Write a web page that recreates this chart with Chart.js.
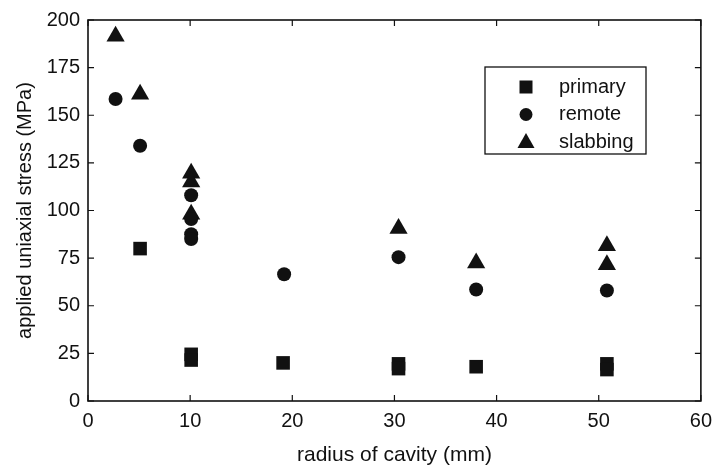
<!DOCTYPE html>
<html>
<head>
<meta charset="utf-8">
<script src="https://cdn.jsdelivr.net/npm/chart.js@4/dist/chart.umd.min.js"></script>
<style>
  html, body { margin: 0; padding: 0; background: #fff; }
  #wrap { width: 720px; height: 470px; }
</style>
</head>
<body>
<div id="wrap"><canvas id="stressChart"></canvas></div>
<script>
// Applied uniaxial stress vs. cavity radius, three failure modes

const primaryRadius = [5.1, 10.1, 10.1, 19.1, 30.4, 30.4, 38.0, 50.8, 50.8];
const primaryStress = [80, 24.5, 21.5, 20, 19.5, 17, 18, 19.5, 16.5];

const remoteRadius = [2.7, 5.1, 10.1, 10.1, 10.1, 10.1, 19.2, 30.4, 38.0, 50.8];
const remoteStress = [158.5, 134, 108, 95.5, 87.5, 85, 66.5, 75.5, 58.5, 58];

const slabbingRadius = [2.7, 5.1, 10.1, 10.1, 10.1, 30.4, 38.0, 50.8, 50.8];
const slabbingStress = [191.5, 161, 119.5, 115, 98, 90.5, 72.5, 81.5, 71.5];

const xTicks = [0, 10, 20, 30, 40, 50, 60];
const yTicks = [0, 25, 50, 75, 100, 125, 150, 175, 200];

const ink = "#111";
const fontFamily = "'Liberation Sans', Arial, Helvetica, sans-serif";

function toPoints(xs, ys) {
  return xs.map((x, i) => ({ x: x, y: ys[i] }));
}

// boxed plot frame with inward tick marks on all four sides
const framePlugin = {
  id: "frame",
  beforeDatasetsDraw(chart) {
    const { ctx, chartArea: a, scales } = chart;
    const len = 6;
    ctx.save();
    ctx.strokeStyle = ink;
    ctx.lineWidth = 1.6;
    ctx.strokeRect(a.left, a.top, a.right - a.left, a.bottom - a.top);
    ctx.lineWidth = 1.2;
    ctx.beginPath();
    xTicks.forEach((v) => {
      const px = scales.x.getPixelForValue(v);
      ctx.moveTo(px, a.bottom);
      ctx.lineTo(px, a.bottom - len);
      ctx.moveTo(px, a.top);
      ctx.lineTo(px, a.top + len);
    });
    yTicks.forEach((v) => {
      const py = scales.y.getPixelForValue(v);
      ctx.moveTo(a.left, py);
      ctx.lineTo(a.left + len, py);
      ctx.moveTo(a.right, py);
      ctx.lineTo(a.right - len, py);
    });
    ctx.stroke();
    ctx.restore();
  },
};

// boxed legend in the upper right of the plot
const boxLegend = {
  id: "boxLegend",
  afterDraw(chart) {
    const { ctx } = chart;
    const box = { x: 485, y: 67, w: 161, h: 87 };
    const rowY = [87, 114.5, 142];
    ctx.save();
    ctx.strokeStyle = ink;
    ctx.lineWidth = 1.3;
    ctx.strokeRect(box.x, box.y, box.w, box.h);
    ctx.font = "20px " + fontFamily;
    ctx.textBaseline = "middle";
    ctx.textAlign = "left";
    chart.data.datasets.forEach((ds, i) => {
      const y = rowY[i];
      const x = 526;
      ctx.fillStyle = ink;
      ctx.beginPath();
      if (ds.pointStyle === "rect") {
        ctx.rect(x - 6.5, y - 6.5, 13, 13);
      } else if (ds.pointStyle === "circle") {
        ctx.arc(x, y, 6.5, 0, Math.PI * 2);
      } else {
        ctx.moveTo(x, y - 9);
        ctx.lineTo(x + 8.5, y + 6);
        ctx.lineTo(x - 8.5, y + 6);
        ctx.closePath();
      }
      ctx.fill();
      ctx.fillText(ds.label, 559, y);
    });
    ctx.restore();
  },
};

new Chart(document.getElementById("stressChart").getContext("2d"), {
  type: "scatter",
  data: {
    datasets: [
      {
        label: "primary",
        data: toPoints(primaryRadius, primaryStress),
        pointStyle: "rect",
        pointRadius: 9.6,
        backgroundColor: ink,
        borderWidth: 0,
      },
      {
        label: "remote",
        data: toPoints(remoteRadius, remoteStress),
        pointStyle: "circle",
        pointRadius: 7,
        backgroundColor: ink,
        borderWidth: 0,
      },
      {
        label: "slabbing",
        data: toPoints(slabbingRadius, slabbingStress),
        pointStyle: "triangle",
        pointRadius: 10.5,
        backgroundColor: ink,
        borderWidth: 0,
      },
    ],
  },
  options: {
    responsive: true,
    maintainAspectRatio: false,
    animation: false,
    layout: { padding: { top: 16, right: 12, left: 0, bottom: 0 } },
    plugins: {
      legend: { display: false },
      tooltip: { enabled: false },
    },
    scales: {
      x: {
        type: "linear",
        min: 0,
        max: 60,
        afterBuildTicks: (s) => { s.ticks = xTicks.map((v) => ({ value: v })); },
        afterFit: (s) => { s.height = 69; },
        grid: { display: false, drawTicks: false },
        border: { display: false },
        ticks: { color: ink, padding: 8, font: { family: fontFamily, size: 20 } },
        title: {
          display: true,
          text: "radius of cavity (mm)",
          color: ink,
          padding: { bottom: 2 },
          font: { family: fontFamily, size: 21 },
        },
      },
      y: {
        type: "linear",
        min: 0,
        max: 200,
        afterBuildTicks: (s) => { s.ticks = yTicks.map((v) => ({ value: v })); },
        afterFit: (s) => { s.width = 88; },
        grid: { display: false, drawTicks: false },
        border: { display: false },
        ticks: { color: ink, padding: 8, font: { family: fontFamily, size: 20 } },
        title: {
          display: true,
          text: "applied uniaxial stress (MPa)",
          color: ink,
          padding: { top: 13 },
          font: { family: fontFamily, size: 20 },
        },
      },
    },
  },
  plugins: [framePlugin, boxLegend],
});
</script>
</body>
</html>
